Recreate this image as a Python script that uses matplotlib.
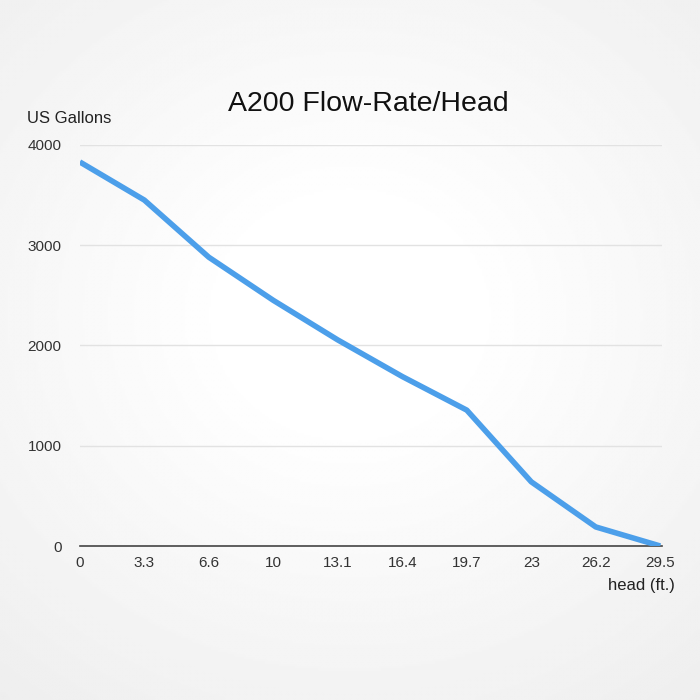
import matplotlib
matplotlib.use("Agg")
import matplotlib.pyplot as plt
import numpy as np

plt.rcParams["font.family"] = ["Liberation Sans", "DejaVu Sans"]

heads = ["0", "3.3", "6.6", "10", "13.1", "16.4", "19.7", "23", "26.2", "29.5"]
gallons = [3830, 3450, 2880, 2450, 2055, 1690, 1355, 640, 190, 0]
yticks = [0, 1000, 2000, 3000, 4000]

fig = plt.figure(figsize=(7, 7), dpi=100)
fig.patch.set_facecolor("#f4f4f4")

# subtle background vignette
bg = fig.add_axes([0, 0, 1, 1], zorder=-10)
yy, xx = np.mgrid[-1:1:300j, -1:1:300j]
r = np.sqrt((xx * 0.9) ** 2 + ((yy + 0.1) * 1.0) ** 2)
img = 1.0 - 0.06 * np.clip(r - 0.3, 0, None)
bg.imshow(img, cmap="gray", vmin=0, vmax=1, extent=[0, 1, 0, 1], aspect="auto")
bg.axis("off")

ax = fig.add_axes([0.114, 0.22, 0.832, 0.573])
ax.set_facecolor("none")
x = np.arange(len(heads))
ax.plot(x, gallons, color="#4c9fea", linewidth=4.0, solid_joinstyle="round", solid_capstyle="butt", zorder=3)

ax.set_xlim(0, len(heads) - 1 + 0.03)
ax.set_ylim(0, 4000)
ax.set_xticks(x)
ax.set_xticklabels(heads, fontsize=11, color="#333333")
ax.set_yticks(yticks)
ax.set_yticklabels([str(v) for v in yticks], fontsize=11, color="#333333")
ax.tick_params(axis="both", length=0)
ax.tick_params(axis="y", pad=13)
ax.tick_params(axis="x", pad=7)
ax.grid(axis="y", color="#e2e2e2", linewidth=1)
for s in ["top", "right", "left"]:
    ax.spines[s].set_visible(False)
ax.spines["bottom"].set_color("#444444")
ax.spines["bottom"].set_linewidth(1.2)
ax.spines["bottom"].set_zorder(2)

fig.text(0.526, 0.852, "A200 Flow-Rate/Head", ha="center", va="center", fontsize=20.5, color="#111111")
fig.text(0.039, 0.831, "US Gallons", ha="left", va="center", fontsize=12, color="#222222")
fig.text(0.964, 0.164, "head (ft.)", ha="right", va="center", fontsize=12, color="#222222")

fig.savefig("out.png", dpi=100, facecolor=fig.get_facecolor())
